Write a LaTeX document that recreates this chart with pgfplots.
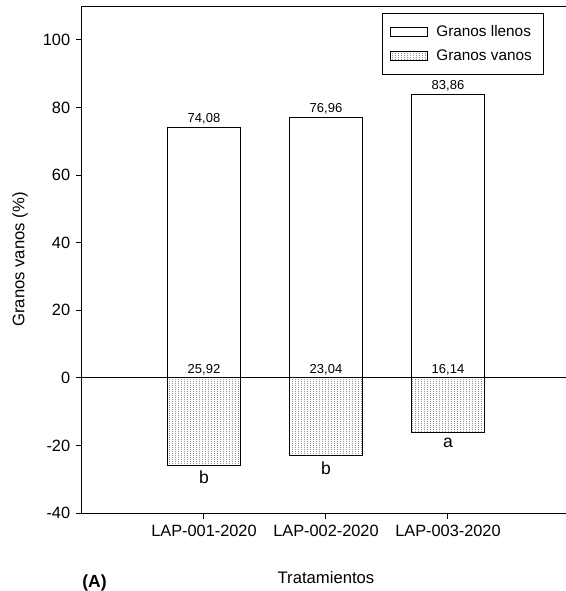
\documentclass[border=0pt]{standalone}
\usepackage{fontspec}
\setmainfont{Liberation Sans}
\usepackage{pgfplots}
\pgfplotsset{compat=1.18}
\usetikzlibrary{patterns}

% fine dotted fill used by the "vanos" bars
\pgfdeclarepatternformonly{finedots}{\pgfqpoint{0pt}{0pt}}{\pgfqpoint{2pt}{1.2pt}}{\pgfqpoint{2pt}{1.2pt}}%
{\pgfpathrectangle{\pgfqpoint{0pt}{0pt}}{\pgfqpoint{0.55pt}{0.55pt}}\pgfusepath{fill}}

\begin{document}
\begin{tikzpicture}
\begin{axis}[
  at={(0,0)}, anchor=south west,
  scale only axis, width=292.8pt, height=304.2pt,
  xmin=0, xmax=4, ymin=-40, ymax=110,
  axis x line=box, axis y line=left,
  axis line style={-, line width=0.6pt},
  tick align=outside, tick pos=left,
  major tick length=3.6pt,
  tick style={line width=0.6pt, black},
  xtick={1,2,3},
  xticklabels={LAP-001-2020,LAP-002-2020,LAP-003-2020},
  ytick={-40,-20,0,20,40,60,80,100},
  /pgf/number format/assume math mode=true,
  ticklabel style={font=\fontsize{9.8}{11}\selectfont},
  xlabel={Tratamientos},
  ylabel={Granos vanos (\%)},
  label style={font=\fontsize{11.2}{13}\selectfont},
  every axis x label/.style={at={(axis description cs:0.5,-0.128)}, anchor=center},
  every axis y label/.style={at={(axis description cs:-0.127,0.5)}, rotate=90, anchor=center},
  legend cell align=left,
  legend image code/.code={\draw[#1, line width=0.6pt] (0pt,-2.7pt) rectangle (22pt,2.7pt);},
  legend style={at={(0.9467,0.986)}, anchor=north east, draw=black, line width=0.6pt,
    font=\fontsize{9.2}{11}\selectfont, row sep=2.5pt, column sep=3pt,
    inner xsep=5pt, inner ysep=5pt},
]
% filled grains (positive bars)
\addplot[ybar, bar width=0.6, bar shift=0pt, draw=black, fill=white, line width=0.8pt,
  nodes near coords={\pgfmathprintnumber[fixed, fixed zerofill, precision=2, use comma]{\pgfplotspointmeta}},
  every node near coord/.append style={font=\fontsize{7.8}{9}\selectfont, black, inner sep=1.5pt}]
  coordinates {(1,74.08) (2,76.96) (3,83.86)};
\addlegendentry{Granos llenos}
% empty grains (negative bars) with significance letters
\addplot[ybar, bar width=0.6, bar shift=0pt, draw=black, pattern=finedots, pattern color=gray!85,
  line width=0.8pt, point meta=explicit symbolic, nodes near coords,
  every node near coord/.append style={font=\fontsize{10.5}{12}\selectfont, black, anchor=north, inner sep=3pt}]
  coordinates {(1,-25.92) [b] (2,-23.04) [b] (3,-16.14) [a]};
\addlegendentry{Granos vanos}
% values of the empty grains, printed above the zero line
\addplot[forget plot, draw=none, mark=none, point meta=explicit,
  nodes near coords={\pgfmathprintnumber[fixed, fixed zerofill, precision=2, use comma]{\pgfplotspointmeta}},
  every node near coord/.append style={font=\fontsize{7.8}{9}\selectfont, black, anchor=south, inner sep=1.5pt}]
  coordinates {(1,0) [25.92] (2,0) [23.04] (3,0) [16.14]};
\draw[line width=0.6pt] (axis cs:0,0) -- (axis cs:4,0);
\end{axis}
\node[anchor=north west, font=\bfseries\fontsize{10.5}{12}\selectfont, inner sep=0pt] at (0pt,-37pt) {(A)};
\pgfresetboundingbox
\path (-49.2pt,-46.8pt) rectangle (290.4pt,307.8pt);
\end{tikzpicture}
\end{document}
